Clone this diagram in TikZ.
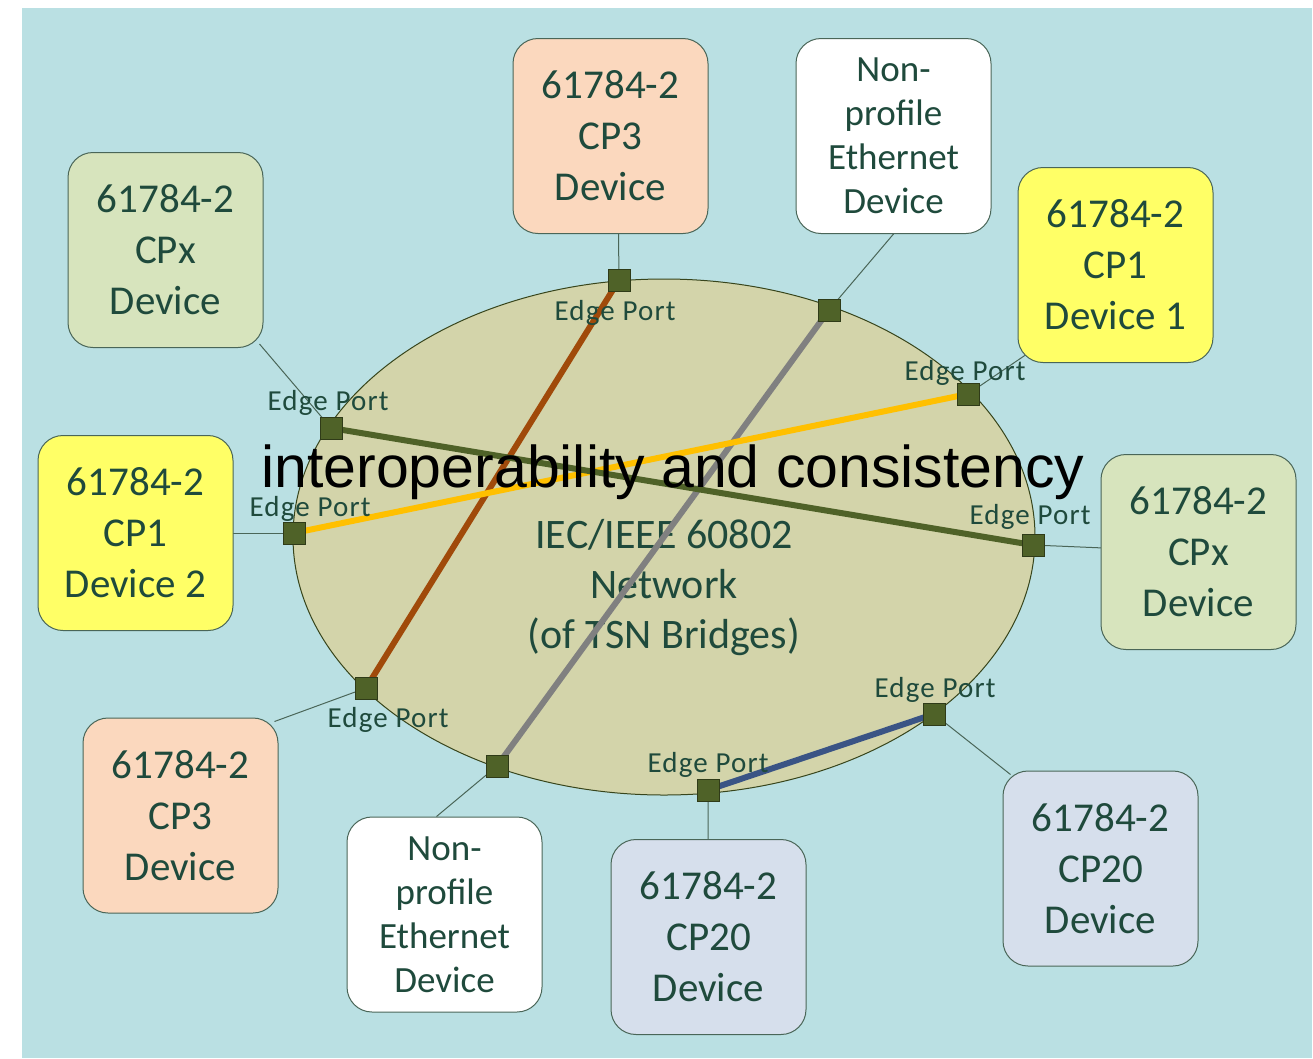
\documentclass[tikz,border=0pt]{standalone}
\usepackage{fontspec}
\usetikzlibrary{shapes.geometric}
\setmainfont{Carlito}
\newfontfamily\arialf{Liberation Sans}
\newfontfamily\spacedf[LetterSpace=4]{Carlito}
\definecolor{bgc}{HTML}{BAE0E3}
\definecolor{ellc}{HTML}{D3D4AA}
\definecolor{greenbox}{HTML}{D7E4BD}
\definecolor{peach}{HTML}{FBD8BE}
\definecolor{yel}{HTML}{FFFF66}
\definecolor{bluebox}{HTML}{D6DFEC}
\definecolor{portc}{HTML}{4F6228}
\definecolor{txt}{HTML}{1F4A3C}
\definecolor{brownl}{HTML}{A04A0A}
\definecolor{yell}{HTML}{FFC000}
\definecolor{grayl}{HTML}{808080}
\definecolor{bluel}{HTML}{3A5485}
\definecolor{edgec}{HTML}{4A6658}
\pgfdeclarelayer{bg}
\pgfsetlayers{bg,main}
\tikzset{
  dev/.style={draw=edgec, line width=1pt, rounded corners=25pt, minimum width=195pt, minimum height=195pt, align=center, text=txt, font=\fontsize{41}{51}\selectfont, inner sep=0pt},
  npdev/.style={dev, font=\fontsize{37}{44}\selectfont},
  port/.style={draw=portc!60!black, fill=portc, minimum size=22pt, inner sep=0pt, line width=0.8pt},
  eplabel/.style={text=txt, font=\spacedf\fontsize{29}{30}\selectfont, anchor=base, inner sep=0pt},
  conn/.style={draw=edgec, line width=1pt},
  link/.style={line width=6pt}
}
\begin{document}
\begin{tikzpicture}[x=1pt,y=-1pt]
\useasboundingbox (0,0) rectangle (1313,1058);
\begin{pgfonlayer}{bg}
  \fill[bgc] (22,8) rectangle (1312,1058);
  \node[ellipse, draw=portc!70!black, fill=ellc, line width=1pt, minimum width=742pt, minimum height=516pt, inner sep=0pt] (net) at (664,537) {};
\end{pgfonlayer}
% devices
\node[dev, fill=greenbox] (cpxL) at (165.5,250) {61784-2\\CPx\\Device};
\node[dev, fill=peach] (cp3T) at (610.5,136) {61784-2\\CP3\\Device};
\node[npdev, fill=white] (npT) at (893.5,136) {Non-\\profile\\Ethernet\\Device};
\node[dev, fill=yel] (cp1a) at (1115.5,265) {61784-2\\CP1\\Device 1};
\node[dev, fill=yel] (cp1b) at (135.5,533) {61784-2\\CP1\\Device 2};
\node[dev, fill=greenbox] (cpxR) at (1198.5,552) {61784-2\\CPx\\Device};
\node[dev, fill=peach] (cp3L) at (180.5,815.5) {61784-2\\CP3\\Device};
\node[npdev, fill=white] (npB) at (444.5,914.5) {Non-\\profile\\Ethernet\\Device};
\node[dev, fill=bluebox] (cp20B) at (708.5,937) {61784-2\\CP20\\Device};
\node[dev, fill=bluebox] (cp20R) at (1100.5,868.5) {61784-2\\CP20\\Device};
% central text
\node[align=center, text=txt, font=\fontsize{42}{50}\selectfont, inner sep=0pt] (nettxt) at (664,588) {IEC/IEEE 60802\\Network\\(of TSN Bridges)};
% port coordinates
\coordinate (c1) at (619,280);
\coordinate (c2) at (829,310);
\coordinate (c3) at (968,394);
\coordinate (c4) at (331,428);
\coordinate (c5) at (294,533);
\coordinate (c6) at (1033,545);
\coordinate (c7) at (366,688);
\coordinate (c8) at (497,766);
\coordinate (c9) at (708,790);
\coordinate (c10) at (934,714);
% links
\draw[link, brownl] (c1) -- (c7);
\draw[link, grayl] (c2) -- (c8);
\draw[link, yell] (c3) -- (c5);
\draw[link, portc] (c4) -- (c6);
\draw[link, bluel] (c9) -- (c10);
% ports
\foreach \i in {1,...,10} {\node[port] (p\i) at (c\i) {};}
% labels
\node[eplabel] (l1) at (615,320) {Edge Port};
\node[eplabel] (l3) at (965,380) {Edge Port};
\node[eplabel] (l4) at (328,410) {Edge Port};
\node[eplabel] (l5) at (310,516) {Edge Port};
\node[eplabel] (l6) at (1030,524) {Edge Port};
\node[eplabel] (l7) at (388,727) {Edge Port};
\node[eplabel] (l9) at (708,772) {Edge Port};
\node[eplabel] (l10) at (935,697) {Edge Port};
% title
\node[anchor=base, inner sep=0pt, font=\arialf\fontsize{59}{60}\selectfont] (title) at (673,487) {interoperability and consistency};
% connector end points
\coordinate (e1) at ([xshift=8]cp3T.south);
\coordinate (e2) at (npT.south);
\coordinate (e3) at ([shift={(8,-8)}]cp1a.south west);
\coordinate (e4) at ([shift={(-4,-4)}]cpxL.south east);
\coordinate (e7) at ([shift={(-4,4)}]cp3L.north east);
\coordinate (e8) at ([xshift=-8]npB.north);
\coordinate (e10) at ([shift={(8,4)}]cp20R.north west);
\begin{pgfonlayer}{bg}
  \draw[conn] (p1.center) -- (e1);
  \draw[conn] (p2.center) -- (e2);
  \draw[conn] (p3.center) -- (e3);
  \draw[conn] (p4.center) -- (e4);
  \draw[conn] (p5.center) -- (cp1b.center);
  \draw[conn] (p6.center) -- (cpxR.center);
  \draw[conn] (p7.center) -- (e7);
  \draw[conn] (p8.center) -- (e8);
  \draw[conn] (p9.center) -- (cp20B.center);
  \draw[conn] (p10.center) -- (e10);
\end{pgfonlayer}
\end{tikzpicture}
\end{document}
